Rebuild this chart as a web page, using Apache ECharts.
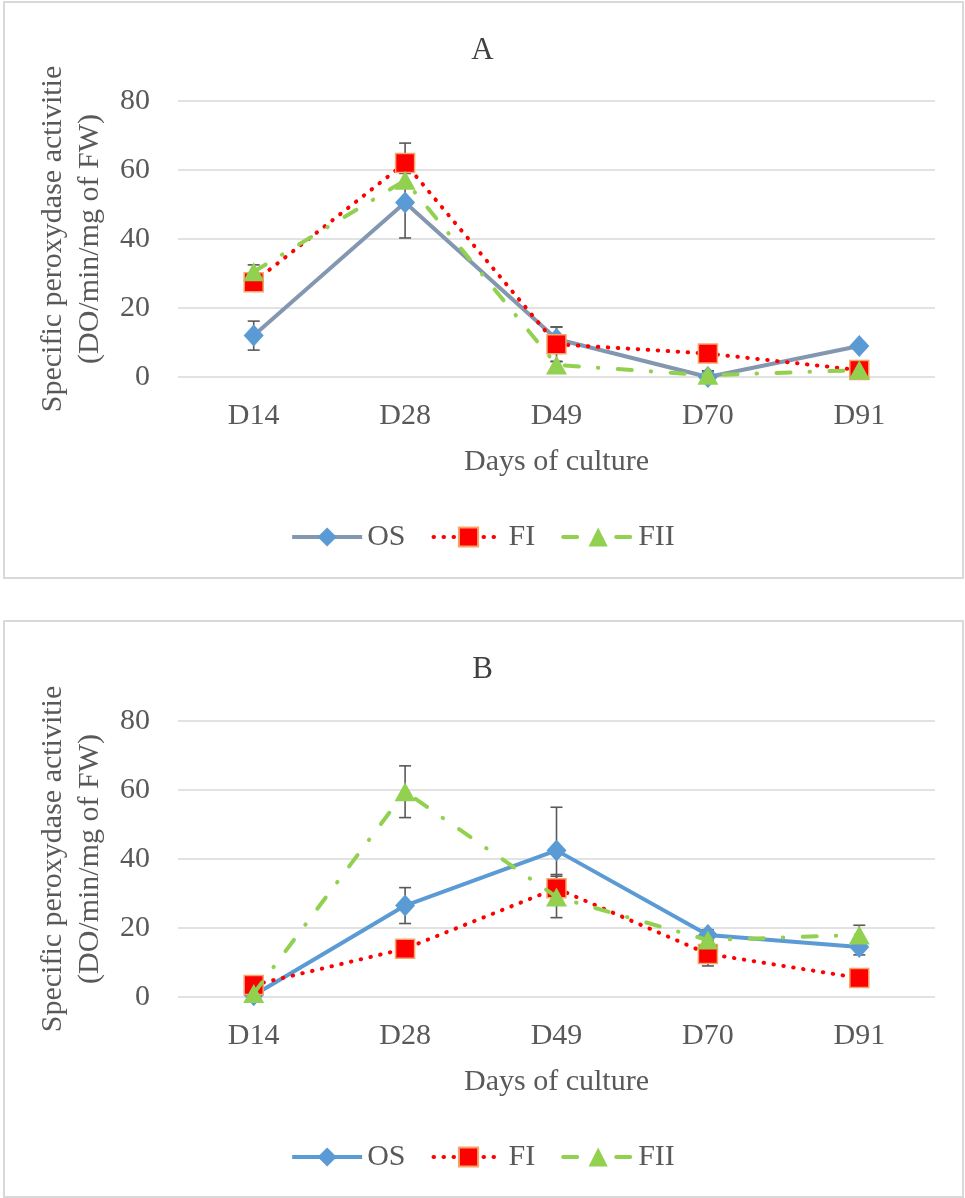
<!DOCTYPE html>
<html>
<head>
<meta charset="utf-8">
<script src="https://cdn.jsdelivr.net/npm/echarts@6/dist/echarts.min.js"></script>
<style>
  body { margin: 0; background: #fff; }
  .frame { position: absolute; left: 3px; width: 961px; box-sizing: border-box; border: 2px solid #D9D9D9; pointer-events: none; }
  .chart { position: absolute; left: 0; width: 965px; }
</style>
</head>
<body>
<div id="chartA" class="chart" style="top:0; height:580px;"></div>
<div id="chartB" class="chart" style="top:619px; height:579px;"></div>
<div class="frame" style="top:1px; height:578px;"></div>
<div class="frame" style="top:620px; height:578px;"></div>
<script>
  // 天数
  const days = ['D14', 'D28', 'D49', 'D70', 'D91'];
  const yTicks = [0, 20, 40, 60, 80];

  // A 图
  const osA = [12, 50.6, 11, 0, 9];
  const fiA = [27.5, 62, 9.5, 6.8, 2];
  const fiiA = [30.5, 57, 3.5, 0.5, 2];
  const osErrA = [4.2, 10.3, 3.5, 1.7, 0.8];
  const fiErrA = [1.5, 5.8, 5, 1, 0.8];
  const fiiErrA = [2, 2, 1, 1.3, 0.8];

  // B 图
  const osB = [0.5, 26.5, 42.5, 18, 14.5];
  const fiB = [3.5, 14, 31.5, 12.5, 5.5];
  const fiiB = [1, 59.5, 29, 16.5, 18];
  const osErrB = [0.5, 5.2, 12.5, 1.5, 2.3];
  const fiErrB = [1, 1.5, 4, 3.5, 1];
  const fiiErrB = [0.8, 7.5, 6, 1.5, 2.8];

  const FONT = 'Liberation Serif';
  const TXT = '#595959';

  function errSeries(name, vals, errs) {
    let data = [];
    for (let i = 0; i < vals.length; i++) {
      data.push([i, vals[i] - errs[i], vals[i] + errs[i]]);
    }
    return {
      name: name,
      type: 'custom',
      z: 1,
      silent: true,
      data: data,
      renderItem: function (params, api) {
        const lo = api.coord([api.value(0), api.value(1)]);
        const hi = api.coord([api.value(0), api.value(2)]);
        const w = 6;
        const st = { stroke: '#595959', lineWidth: 1.6 };
        return {
          type: 'group',
          children: [
            { type: 'line', shape: { x1: lo[0], y1: lo[1], x2: hi[0], y2: hi[1] }, style: st },
            { type: 'line', shape: { x1: lo[0] - w, y1: lo[1], x2: lo[0] + w, y2: lo[1] }, style: st },
            { type: 'line', shape: { x1: hi[0] - w, y1: hi[1], x2: hi[0] + w, y2: hi[1] }, style: st }
          ]
        };
      }
    };
  }

  function buildOption(title, os, fi, fii, osErr, fiErr, fiiErr, osLine, gridTop) {
    return {
      animation: false,
      title: {
        text: title,
        left: 'center',
        top: 30,
        textStyle: { fontFamily: FONT, fontSize: 31, fontWeight: 'normal', color: '#404040' }
      },
      legend: {
        data: ['OS', 'FI', 'FII'],
        left: 'center',
        top: gridTop + 416,
        itemWidth: 70,
        itemHeight: 24,
        itemGap: 26,
        lineStyle: { width: 4 },
        textStyle: { fontFamily: FONT, fontSize: 30, color: TXT }
      },
      grid: { left: 178, top: gridTop, width: 757, height: 276 },
      xAxis: {
        type: 'category',
        data: days,
        boundaryGap: true,
        name: 'Days of culture',
        nameLocation: 'middle',
        nameGap: 70,
        nameTextStyle: { fontFamily: FONT, fontSize: 30, color: TXT },
        axisLine: { show: false },
        axisTick: { show: false },
        axisLabel: { margin: 24, fontFamily: FONT, fontSize: 30, color: TXT }
      },
      yAxis: {
        type: 'value',
        min: yTicks[0],
        max: yTicks[yTicks.length - 1],
        interval: 20,
        name: 'Specific peroxydase activitie\n(DO/min/mg of FW)',
        nameLocation: 'middle',
        nameGap: 60,
        nameTextStyle: { fontFamily: FONT, fontSize: 30, lineHeight: 37, color: TXT },
        axisLine: { show: false },
        axisTick: { show: false },
        axisLabel: { margin: 28, fontFamily: FONT, fontSize: 30, color: TXT },
        splitLine: { lineStyle: { color: '#D9D9D9', width: 1.5 } }
      },
      series: [
        errSeries('errOS', os, osErr),
        errSeries('errFI', fi, fiErr),
        errSeries('errFII', fii, fiiErr),
        {
          name: 'OS',
          type: 'line',
          z: 3,
          data: os,
          symbol: 'diamond',
          symbolSize: [20, 22],
          itemStyle: { color: '#5B9BD5' },
          lineStyle: { color: osLine, width: 4 }
        },
        {
          name: 'FI',
          type: 'line',
          z: 4,
          data: fi,
          symbol: 'rect',
          symbolSize: 19,
          itemStyle: { color: '#FF0000', borderColor: '#F4A56A', borderWidth: 1.5 },
          lineStyle: { color: '#FF0000', width: 4, type: [0.5, 9.5], cap: 'round' }
        },
        {
          name: 'FII',
          type: 'line',
          z: 5,
          data: fii,
          symbol: 'triangle',
          symbolSize: [21, 19],
          itemStyle: { color: '#92D050' },
          lineStyle: { color: '#92D050', width: 4, type: [14, 19, 0.5, 19.5], cap: 'round' }
        }
      ]
    };
  }

  const chartA = echarts.init(document.getElementById('chartA'));
  chartA.setOption(buildOption('A', osA, fiA, fiiA, osErrA, fiErrA, fiiErrA, '#8497B0', 101));

  const chartB = echarts.init(document.getElementById('chartB'));
  chartB.setOption(buildOption('B', osB, fiB, fiiB, osErrB, fiErrB, fiiErrB, '#5B9BD5', 102));
</script>
</body>
</html>
